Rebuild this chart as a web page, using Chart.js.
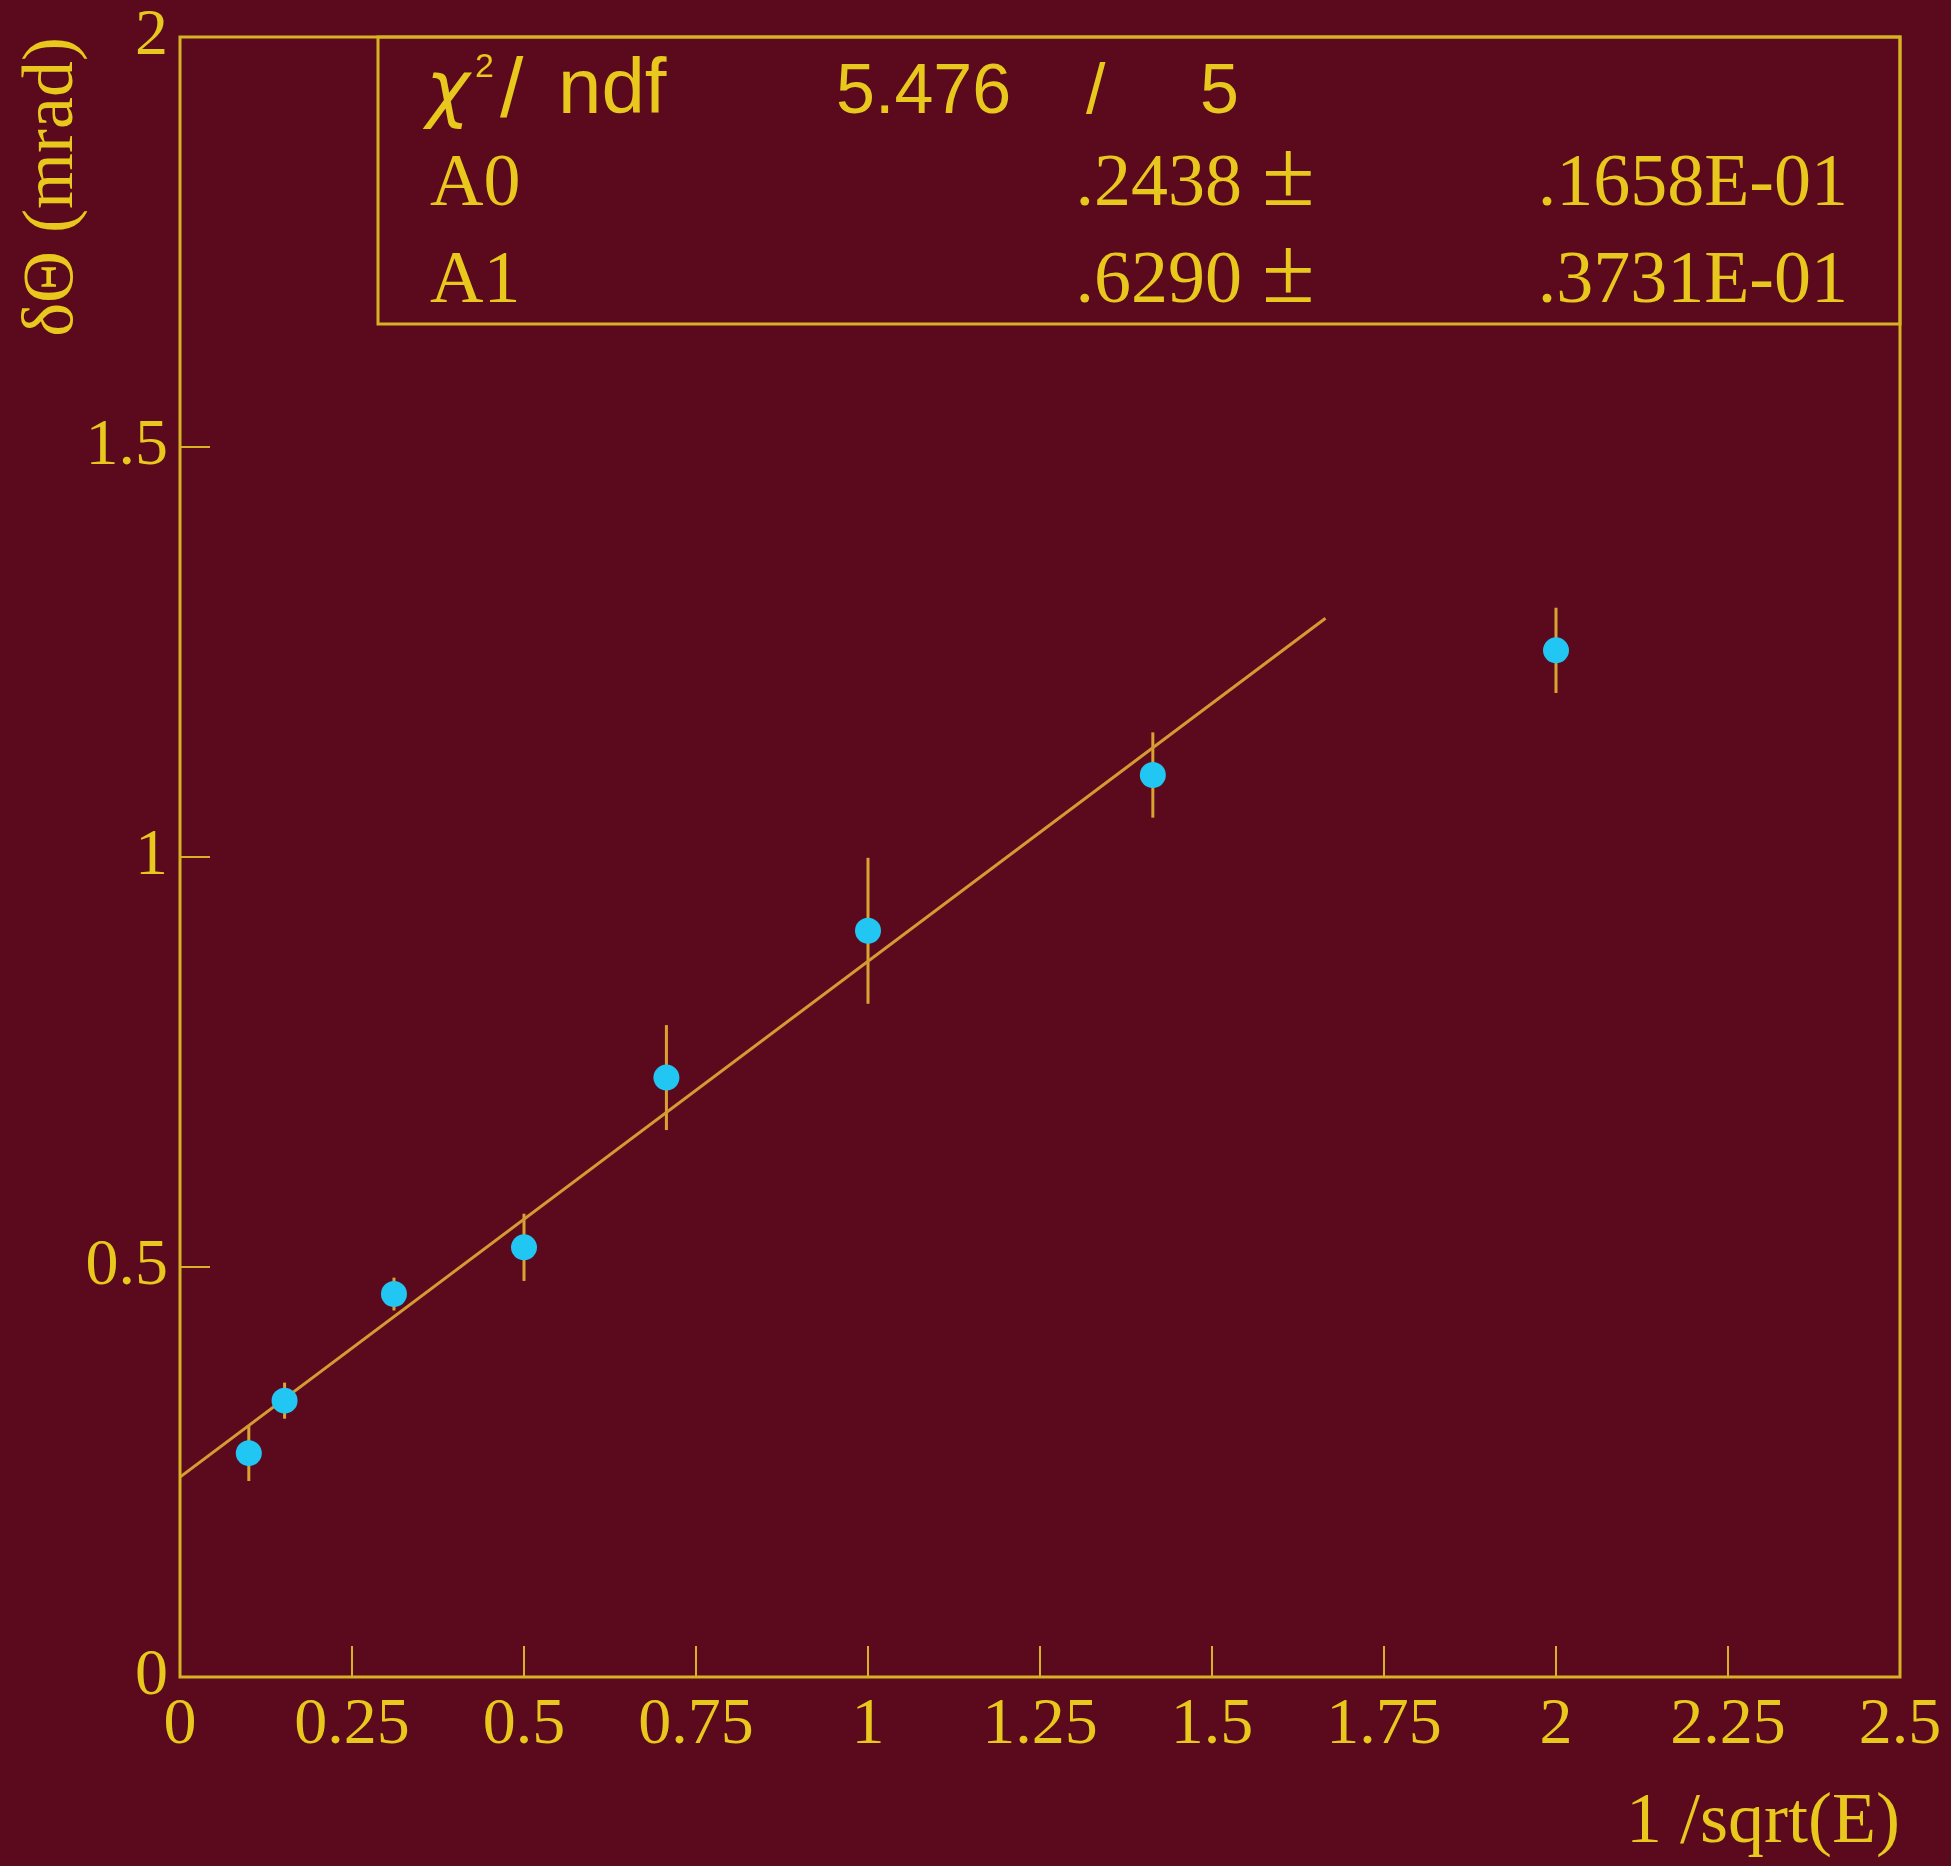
<!DOCTYPE html>
<html>
<head>
<meta charset="utf-8">
<script src="https://cdn.jsdelivr.net/npm/chart.js@4/dist/chart.umd.min.js"></script>
<style>
  html, body { margin: 0; padding: 0; background: #5b0a1d; }
  canvas { display: block; }
</style>
</head>
<body>
<canvas id="myChart" width="1951" height="1866"></canvas>
<script>
// measured points: x = 1/sqrt(E), y = dTheta (mrad) with its error
var xValues = [0.1, 0.152, 0.311, 0.5, 0.707, 1.0, 1.414, 2.0];
var yValues = [0.273, 0.337, 0.467, 0.524, 0.731, 0.910, 1.100, 1.252];
var yErrors = [0.034, 0.022, 0.020, 0.041, 0.064, 0.089, 0.052, 0.052];

// straight line fit A0 + A1*x
var fitNames = ["A0", "A1"];
var fitValues = [0.2438, 0.6290];
var fitErrors = [".1658E-01", ".3731E-01"];
var chi2 = 5.476;
var ndf = 5;
var fitRange = [0, 1.665];

var xTicks = [0, 0.25, 0.5, 0.75, 1, 1.25, 1.5, 1.75, 2, 2.25, 2.5];
var yTicks = [0, 0.5, 1, 1.5, 2];

var bgColor = "#5b0a1d";
var textColor = "#e8c81c";
var frameColor = "#d6b224";
var errColor = "#d9a334";
var fitColor = "#d69a35";
var markerColor = "#22c6f2";

var serif = "'Liberation Serif', 'Times New Roman', serif";
var sans = "'Liberation Sans', Arial, sans-serif";

var fitLine = fitRange.map(function(x) {
    return { x: x, y: fitValues[0] + fitValues[1] * x };
});

var points = xValues.map(function(x, i) {
    return { x: x, y: yValues[i] };
});

function leadingDot(v) {
    return v.toFixed(4).replace(/^0/, "");
}

var histoPlugin = {
    id: "histoFrame",
    beforeDraw: function(chart) {
        var ctx = chart.ctx;
        ctx.save();
        ctx.fillStyle = bgColor;
        ctx.fillRect(0, 0, chart.width, chart.height);
        ctx.restore();
    },
    beforeDatasetsDraw: function(chart) {
        var ctx = chart.ctx, xs = chart.scales.x, ys = chart.scales.y;
        ctx.save();
        ctx.strokeStyle = errColor;
        ctx.lineWidth = 3;
        for (var i = 0; i < xValues.length; i++) {
            var px = xs.getPixelForValue(xValues[i]);
            ctx.beginPath();
            ctx.moveTo(px, ys.getPixelForValue(yValues[i] - yErrors[i]));
            ctx.lineTo(px, ys.getPixelForValue(yValues[i] + yErrors[i]));
            ctx.stroke();
        }
        ctx.restore();
    },
    afterDraw: function(chart) {
        var ctx = chart.ctx, a = chart.chartArea;
        var xs = chart.scales.x, ys = chart.scales.y;
        ctx.save();
        ctx.strokeStyle = frameColor;
        ctx.lineWidth = 3;
        ctx.strokeRect(a.left, a.top, a.right - a.left, a.bottom - a.top);

        // ticks pointing into the frame
        ctx.lineWidth = 2;
        ctx.beginPath();
        xTicks.forEach(function(v) {
            var px = xs.getPixelForValue(v);
            ctx.moveTo(px, a.bottom);
            ctx.lineTo(px, a.bottom - 31);
        });
        yTicks.forEach(function(v) {
            var py = ys.getPixelForValue(v);
            ctx.moveTo(a.left, py);
            ctx.lineTo(a.left + 30, py);
        });
        ctx.stroke();

        // fit statistics box
        var bx = a.left + 198, by = a.top, bw = a.right - bx, bh = 287;
        ctx.lineWidth = 3;
        ctx.strokeRect(bx, by, bw, bh);

        ctx.fillStyle = textColor;
        ctx.textBaseline = "alphabetic";
        var row1 = by + 76;
        ctx.textAlign = "left";
        ctx.font = "italic 74px 'DejaVu Sans', sans-serif";
        ctx.fillText("\u03c7", bx + 48, row1);
        ctx.font = "34px " + sans;
        ctx.fillText("2", bx + 97, row1 - 36);
        ctx.font = "84px " + sans;
        ctx.fillText("/", bx + 122, row1 + 4);
        ctx.font = "78px " + sans;
        ctx.fillText("ndf", bx + 180, row1);
        ctx.font = "70px " + sans;
        ctx.fillText(chi2.toFixed(3), bx + 458, row1);
        ctx.fillText("/", bx + 708, row1);
        ctx.textAlign = "right";
        ctx.fillText(String(ndf), bx + 861, row1);

        for (var i = 0; i < fitNames.length; i++) {
            var ry = by + 168 + i * 97;
            ctx.font = "74px " + serif;
            ctx.textAlign = "left";
            ctx.fillText(fitNames[i], bx + 52, ry);
            ctx.textAlign = "right";
            ctx.fillText(leadingDot(fitValues[i]), bx + 864, ry);
            ctx.textAlign = "right";
            ctx.fillText(fitErrors[i], a.right - 52, ry);
            ctx.font = "96px " + serif;
            ctx.textAlign = "left";
            ctx.fillText("\u00b1", bx + 884, ry);
        }
        ctx.restore();
    }
};

var ctx = document.getElementById("myChart").getContext("2d");

new Chart(ctx, {
    type: "scatter",
    data: {
        datasets: [{
            label: "data",
            data: points,
            pointRadius: 13,
            pointHoverRadius: 13,
            pointBackgroundColor: markerColor,
            pointBorderColor: markerColor,
            pointBorderWidth: 0,
            showLine: false
        }, {
            label: "fit",
            data: fitLine,
            showLine: true,
            borderColor: fitColor,
            borderWidth: 3,
            pointRadius: 0,
            fill: false
        }]
    },
    options: {
        responsive: false,
        animation: false,
        devicePixelRatio: 1,
        layout: { padding: { top: 37, right: 51, left: 0, bottom: 0 } },
        plugins: {
            legend: { display: false },
            tooltip: { enabled: false }
        },
        scales: {
            x: {
                type: "linear",
                min: 0,
                max: 2.5,
                afterFit: function(s) { s.height = 189; },
                afterBuildTicks: function(s) {
                    s.ticks = xTicks.map(function(v) { return { value: v }; });
                },
                grid: { display: false, drawTicks: false },
                border: { display: false },
                ticks: {
                    color: textColor,
                    font: { family: serif, size: 66 },
                    padding: 9,
                    maxRotation: 0,
                    autoSkip: false,
                    callback: function(v) { return String(v); }
                },
                title: {
                    display: true,
                    text: "1 /sqrt(E)",
                    align: "end",
                    color: textColor,
                    font: { family: serif, size: 72 },
                    padding: { top: 0, bottom: 0 }
                }
            },
            y: {
                type: "linear",
                min: 0,
                max: 2,
                afterFit: function(s) { s.width = 180; },
                afterBuildTicks: function(s) {
                    s.ticks = yTicks.map(function(v) { return { value: v }; });
                },
                grid: { display: false, drawTicks: false },
                border: { display: false },
                ticks: {
                    color: textColor,
                    font: { family: serif, size: 66, lineHeight: 0.7 },
                    padding: 12,
                    autoSkip: false,
                    callback: function(v) { return String(v); }
                },
                title: {
                    display: true,
                    text: "\u03b4\u0398 (mrad)",
                    align: "end",
                    color: textColor,
                    font: { family: serif, size: 72 },
                    padding: { top: 10, bottom: 0 }
                }
            }
        }
    },
    plugins: [histoPlugin]
});
</script>
</body>
</html>
